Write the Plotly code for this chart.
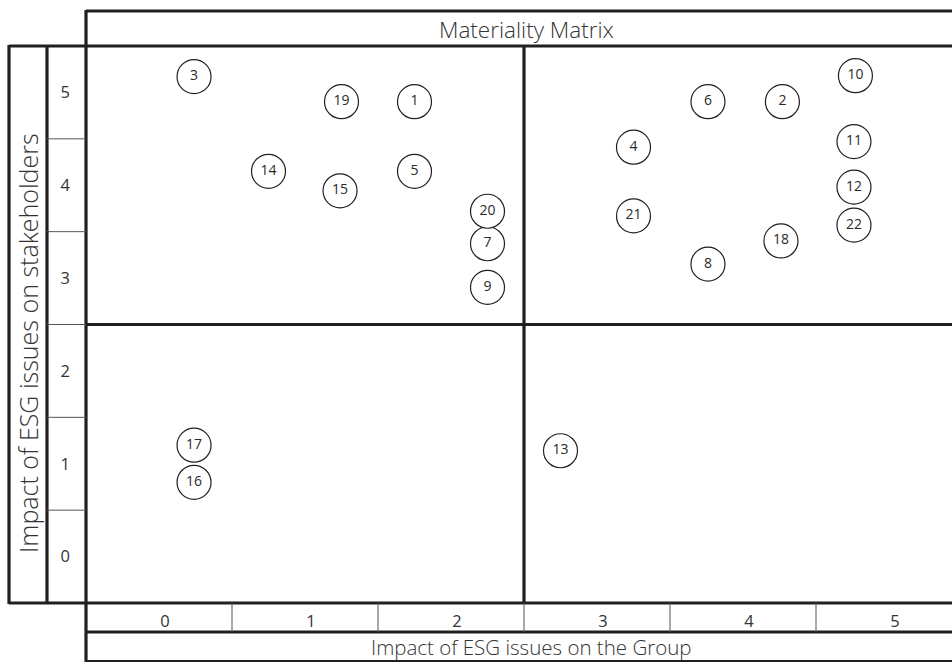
import plotly.graph_objects as go

# ---- data ----
issue_ids = ["1", "2", "3", "4", "5", "6", "7", "8", "9", "10", "11",
             "12", "13", "14", "15", "16", "17", "18", "19", "20", "21", "22"]
impact_group = [1.75, 4.27, 0.24, 3.25, 1.75, 3.76, 2.25, 3.76, 2.25, 4.77, 4.76,
                4.76, 2.75, 0.75, 1.24, 0.24, 0.24, 4.26, 1.25, 2.25, 3.25, 4.76]
impact_stakeholders = [4.90, 4.90, 5.17, 4.41, 4.15, 4.90, 3.37, 3.15, 2.90, 5.18, 4.47,
                       3.98, 1.14, 4.15, 3.94, 0.80, 1.20, 3.40, 4.90, 3.72, 3.67, 3.57]
x_ticks = [0, 1, 2, 3, 4, 5]
y_ticks = [0, 1, 2, 3, 4, 5]
title_text = "Materiality Matrix"
x_title = "Impact of ESG issues on the Group"
y_title = "Impact of ESG issues on stakeholders"

# ---- layout geometry (pixels) ----
W, H = 952, 663
L, R, T, B = 86, 952, 46, 603
FONT = "Open Sans"
INK = "#231f20"
TXT = "#333333"


def px(xp):
    return (xp - L) / (R - L)


def py(yp):
    return (B - yp) / (B - T)


fig = go.Figure()
fig.add_trace(go.Scatter(
    x=impact_group, y=impact_stakeholders, text=issue_ids,
    mode="markers+text", textposition="middle center",
    marker=dict(symbol="circle", size=34, color="white",
                line=dict(color=INK, width=1.2)),
    textfont=dict(family=FONT, size=14, color="#2a2a2a"),
    hoverinfo="skip", showlegend=False, cliponaxis=False,
))

shapes = []


def line(x0, y0, x1, y1, w=3.2, c=INK, xref="paper", yref="paper"):
    shapes.append(dict(type="line", x0=x0, y0=y0, x1=x1, y1=y1,
                       xref=xref, yref=yref, line=dict(color=c, width=w)))


# thick frame lines
line(px(86), py(11), px(962), py(11))          # top of title box
line(px(9), py(46), px(962), py(46))            # top of plot
line(px(9), py(603), px(962), py(603))          # bottom of plot
line(px(86), py(632), px(962), py(632))         # bottom of tick row
line(px(86), py(661), px(962), py(661), w=2)    # bottom of x-title box
line(px(86), py(10), px(86), py(662))           # plot left edge
line(px(9), py(45), px(9), py(604))             # outer left of y-title box
line(px(47), py(45), px(47), py(604))           # inner left (tick column)
# quadrant dividers
line(2.5, 0, 2.5, 1, xref="x", yref="paper")
line(0, 2.5, 1, 2.5, xref="paper", yref="y")
# thin tick cell dividers
for v in [0.5, 1.5, 2.5, 3.5, 4.5]:
    line(v, py(603), v, py(632), w=1, c="#555555", xref="x", yref="paper")
    line(px(47), v, px(86), v, w=1, c="#555555", xref="paper", yref="y")

annotations = [
    dict(text=title_text, x=px(526), y=py(29), xref="paper", yref="paper",
         xanchor="center", yanchor="middle", showarrow=False,
         font=dict(family=FONT, size=22.5, color=TXT, weight=300)),
    dict(text=x_title, x=px(531), y=py(647), xref="paper", yref="paper",
         xanchor="center", yanchor="middle", showarrow=False,
         font=dict(family=FONT, size=20.5, color=TXT, weight=300)),
    dict(text=y_title, x=px(28), y=py(343), xref="paper", yref="paper",
         xanchor="center", yanchor="middle", showarrow=False, textangle=-90,
         font=dict(family=FONT, size=25, color=TXT, weight=300)),
]

fig.update_layout(
    width=W, height=H,
    margin=dict(l=L, r=W - R, t=T, b=H - B, pad=0),
    paper_bgcolor="white", plot_bgcolor="white",
    shapes=shapes, annotations=annotations,
    xaxis=dict(range=[-0.5, -0.5 + (R - L) / 146.0], tickvals=x_ticks,
               ticktext=[str(v) for v in x_ticks], showgrid=False,
               zeroline=False, showline=False, ticks="",
               ticklabelstandoff=6, ticklabelshift=6,
               tickfont=dict(family=FONT, size=16.5, color=TXT)),
    yaxis=dict(range=[-0.5, 5.5], tickvals=y_ticks,
               ticktext=[str(v) for v in y_ticks], showgrid=False,
               zeroline=False, showline=False, ticks="",
               ticklabelstandoff=15,
               tickfont=dict(family=FONT, size=16.5, color=TXT)),
)

fig.write_html("out.html", config={"displayModeBar": False},
               post_script="document.body.style.margin='0';"
                           "document.body.style.overflow='hidden';")
